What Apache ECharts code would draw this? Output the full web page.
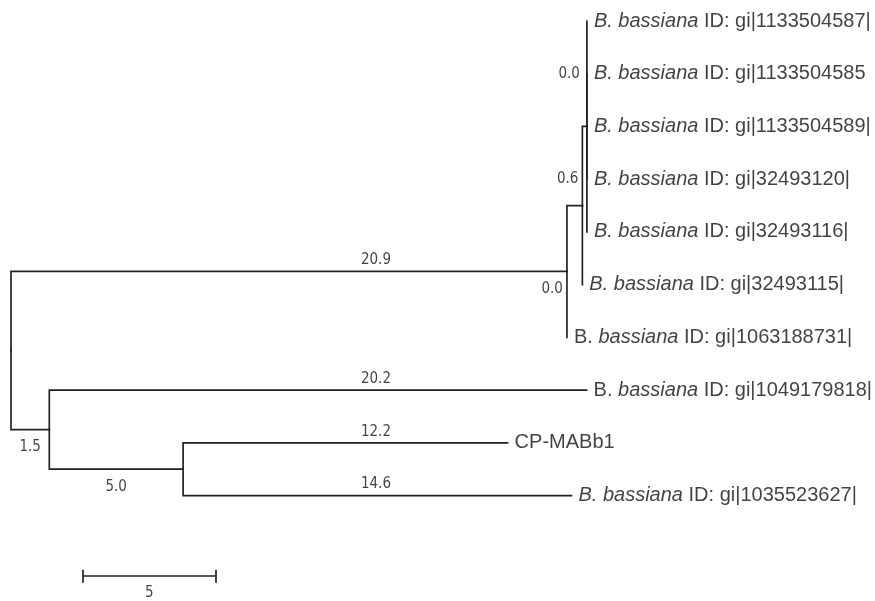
<!DOCTYPE html>
<html><head><meta charset="utf-8">
<script src="https://cdn.jsdelivr.net/npm/echarts@6/dist/echarts.min.js"></script>
<style>html,body{margin:0;padding:0;background:#fff}#c{width:875px;height:601px}</style>
</head><body><div id="c"></div>
<script>
// Tip taxa, top to bottom
const tipIds = ['t0','t1','t2','t3','t4','t5','t6','t7','t8','t9'];
const tipNames = [
  'B. bassiana ID: gi|1133504587|',
  'B. bassiana ID: gi|1133504585',
  'B. bassiana ID: gi|1133504589|',
  'B. bassiana ID: gi|32493120|',
  'B. bassiana ID: gi|32493116|',
  'B. bassiana ID: gi|32493115|',
  'B. bassiana ID: gi|1063188731|',
  'B. bassiana ID: gi|1049179818|',
  'CP-MABb1',
  'B. bassiana ID: gi|1035523627|'
];
const tipGenusItalic = [true, true, true, true, true, true, false, false, false, true];

// Tree edges (parent -> child) with branch lengths as drawn (scale units)
const edgeParent = ['root','A','A','B','B','C','C','C','C','C','root','D','D','E','E'];
const edgeChild  = ['A','B','t6','C','t5','t0','t1','t2','t3','t4','D','t7','E','t8','t9'];
const edgeLength = [20.9, 0.58, 0, 0.17, 0, 0, 0, 0, 0, 0, 1.44, 20.2, 5.03, 12.2, 14.6];

// Branch length labels (text, edge child)
const branchLabelText  = ['20.9','20.2','12.2','14.6','5.0','1.5','0.0','0.6','0.0'];
const branchLabelChild = ['A','t7','t8','t9','E','D','t0','B','t6'];

// Scale bar
const scaleBarLength = 5;
const scaleBarLabel = '5';

// ---------- layout ----------
const depth = {root: 0};
const children = {};
edgeChild.forEach((c, i) => {
  const p = edgeParent[i];
  depth[c] = depth[p] + edgeLength[i];
  (children[p] = children[p] || []).push(c);
});
const rowOf = {};
tipIds.forEach((t, i) => rowOf[t] = i);
function yOf(n) {
  if (rowOf[n] !== undefined) return rowOf[n];
  const ys = children[n].map(yOf);
  rowOf[n] = (Math.min(...ys) + Math.max(...ys)) / 2;
  return rowOf[n];
}
yOf('root');

const LINE = '#222';
const TXT = '#111';
const NUMFONT = '"DejaVu Sans Condensed", "DejaVu Sans", sans-serif';
const TAXFONT = '"Liberation Sans", Arial, sans-serif';

const edgeData = edgeChild.map((c, i) => {
  const p = edgeParent[i];
  return {coords: [[depth[p], rowOf[p]], [depth[p], rowOf[c]], [depth[c], rowOf[c]]]};
});

const tipData = tipIds.map((t, i) => ({value: [depth[t], rowOf[t]], name: tipNames[i], italicGenus: tipGenusItalic[i]}));

function fmtTip(p) {
  const n = p.data.name;
  if (n.indexOf('B. bassiana') !== 0) return n;
  const rest = n.slice('B. bassiana'.length);
  return p.data.italicGenus ? '{i|B. bassiana}' + rest : 'B. {i|bassiana}' + rest;
}

const commonX = 13.72;
const branchLabelData = branchLabelText.map((txt, i) => {
  const c = branchLabelChild[i];
  const ei = edgeChild.indexOf(c);
  const p = edgeParent[ei];
  let x, y, label;
  if (i < 4) {
    x = commonX; y = rowOf[c];
    label = {position: 'inside', offset: [0, -11]};
  } else if (i < 6) {
    x = (depth[p] + depth[c]) / 2; y = rowOf[c];
    label = {position: 'inside', offset: [0, 17.5]};
  } else if (txt === '0.6') {
    x = depth[c]; y = rowOf[c] - 0.5;
    label = {position: 'left', distance: 4};
  } else if (c === 't0') {
    x = depth['C']; y = 1;
    label = {position: 'left', distance: 7};
  } else {
    x = depth[p]; y = rowOf[p] + 0.34;
    label = {position: 'left', distance: 4};
  }
  return {value: [x, y], name: txt, label: label};
});

const sbX0 = 2.7, sbY = 10.53, tick = 0.125;
const scaleData = [
  {coords: [[sbX0, sbY], [sbX0 + scaleBarLength, sbY]]},
  {coords: [[sbX0, sbY - tick], [sbX0, sbY + tick]]},
  {coords: [[sbX0 + scaleBarLength, sbY - tick], [sbX0 + scaleBarLength, sbY + tick]]}
];

const chart = echarts.init(document.getElementById('c'), null, {renderer: 'canvas'});
chart.setOption({
  animation: false,
  backgroundColor: '#fff',
  grid: {left: 11, top: 21, width: 851.2, height: 583, containLabel: false},
  xAxis: {type: 'value', min: 0, max: 32, show: false},
  yAxis: {type: 'value', min: 0, max: 11, inverse: true, show: false},
  series: [
    {
      type: 'lines', coordinateSystem: 'cartesian2d', polyline: true, silent: true,
      lineStyle: {color: LINE, width: 1.7, opacity: 1, cap: 'square', join: 'miter'},
      data: edgeData
    },
    {
      type: 'lines', coordinateSystem: 'cartesian2d', polyline: false, silent: true,
      lineStyle: {color: LINE, width: 1.7, opacity: 1},
      data: scaleData
    },
    {
      type: 'scatter', symbolSize: 0, silent: true,
      data: tipData,
      label: {
        show: true, position: 'right', distance: 7, formatter: fmtTip,
        color: TXT, fontSize: 20, fontFamily: TAXFONT,
        rich: {i: {fontStyle: 'italic', color: TXT, fontSize: 20, fontFamily: TAXFONT}}
      }
    },
    {
      type: 'scatter', symbolSize: 0, silent: true,
      data: branchLabelData,
      label: {show: true, formatter: '{b}', color: TXT, fontSize: 15, fontFamily: NUMFONT}
    },
    {
      type: 'scatter', symbolSize: 0, silent: true,
      data: [{value: [sbX0 + scaleBarLength / 2, sbY], name: scaleBarLabel}],
      label: {show: true, position: 'inside', offset: [0, 17], formatter: '{b}', color: TXT, fontSize: 15, fontFamily: NUMFONT}
    }
  ]
});
</script></body></html>
